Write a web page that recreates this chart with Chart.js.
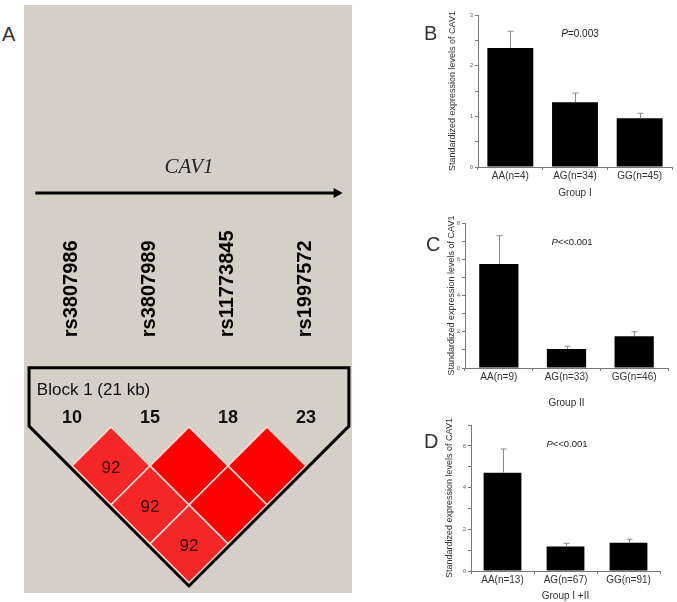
<!DOCTYPE html>
<html>
<head>
<meta charset="utf-8">
<script src="https://cdn.jsdelivr.net/npm/chart.js@4.4.1/dist/chart.umd.min.js"></script>
<style>
  body { margin: 0; background: #fff; width: 677px; height: 602px; position: relative; overflow: hidden; font-family: 'Liberation Sans', Arial, sans-serif; }
  canvas { position: absolute; }
  .lbl { position: absolute; font-size: 20px; color: #333; line-height: 1; }
  .pv { position: absolute; font-size: 10px; color: #222; line-height: 1; transform: translate(-50%, -50%); white-space: nowrap; }
</style>
</head>
<body>
<canvas id="ld" width="328" height="588" style="left:24px;top:5px;background:#d4d0c8"></canvas>
<canvas id="chB" width="237" height="205" style="left:440px;top:0px"></canvas>
<canvas id="chC" width="237" height="205" style="left:440px;top:205px"></canvas>
<canvas id="chD" width="237" height="192" style="left:440px;top:410px"></canvas>

<div class="lbl" style="left:2px;top:24px">A</div>
<div class="lbl" style="left:424px;top:23px">B</div>
<div class="lbl" style="left:426px;top:234px">C</div>
<div class="lbl" style="left:424px;top:431px">D</div>
<div class="pv" style="left:580px;top:34px"><i>P</i>=0.003</div>
<div class="pv" style="left:572px;top:242px;font-size:9.5px"><i>P</i>&lt;&lt;0.001</div>
<div class="pv" style="left:567px;top:444px;font-size:9.5px"><i>P</i>&lt;&lt;0.001</div>

<script>
// panel A: LD block
const snpNames = ['rs3807986', 'rs3807989', 'rs11773845', 'rs1997572'];
const snpNumbers = ['10', '15', '18', '23'];
// [snp i, snp j, D' x100]
const ldPairs = [[1, 2, 92], [2, 3, 100], [3, 4, 100], [1, 3, 92], [2, 4, 100], [1, 4, 92]];
const geneName = 'CAV1';
const blockTitle = 'Block 1 (21 kb)';

// panels B-D: expression by genotype
const labelsB = ['AA(n=4)', 'AG(n=34)', 'GG(n=45)'];
const meansB = [2.35, 1.28, 0.96];
const errB = [0.33, 0.18, 0.10];
const labelsC = ['AA(n=9)', 'AG(n=33)', 'GG(n=46)'];
const meansC = [5.74, 1.05, 1.75];
const errC = [1.56, 0.15, 0.25];
const labelsD = ['AA(n=13)', 'AG(n=67)', 'GG(n=91)'];
const meansD = [4.71, 1.18, 1.36];
const errD = [1.14, 0.15, 0.16];

const yTitle = 'Standardized expression levels of CAV1';

Chart.defaults.font.family = "'Liberation Sans', Arial, sans-serif";
Chart.defaults.animation = false;

const ldPlugin = {
    id: 'ldDraw',
    afterDatasetsDraw(chart) {
        const {ctx, scales: {x, y}} = chart;
        const px = v => x.getPixelForValue(v);
        const py = v => y.getPixelForValue(v);
        ctx.save();

        // gene arrow
        ctx.strokeStyle = '#000';
        ctx.fillStyle = '#000';
        ctx.lineWidth = 3;
        ctx.beginPath();
        ctx.moveTo(px(0.53), py(-3.0));
        ctx.lineTo(px(4.40), py(-3.0));
        ctx.stroke();
        ctx.beginPath();
        ctx.moveTo(px(4.47), py(-3.0));
        ctx.lineTo(px(4.47) - 9, py(-3.0) - 5);
        ctx.lineTo(px(4.47) - 9, py(-3.0) + 5);
        ctx.closePath();
        ctx.fill();

        ctx.font = "italic 21px 'Liberation Serif', 'Times New Roman', serif";
        ctx.fillStyle = '#222';
        ctx.textAlign = 'center';
        ctx.textBaseline = 'middle';
        ctx.fillText(geneName, px(2.5), py(-3.33));

        // snp names, rotated
        ctx.fillStyle = '#000';
        ctx.font = "bold 20px 'Liberation Sans', Arial, sans-serif";
        snpNames.forEach((n, k) => {
            ctx.save();
            ctx.translate(px(k + 1), py(-1.15));
            ctx.rotate(-Math.PI / 2);
            ctx.textAlign = 'left';
            ctx.textBaseline = 'middle';
            ctx.fillText(n, 0, 0);
            ctx.restore();
        });

        // diamonds
        ldPairs.forEach(([i, j, d]) => {
            const cx = (i + j) / 2, cy = (j - i) / 2;
            ctx.beginPath();
            ctx.moveTo(px(cx), py(cy - 0.5));
            ctx.lineTo(px(cx + 0.5), py(cy));
            ctx.lineTo(px(cx), py(cy + 0.5));
            ctx.lineTo(px(cx - 0.5), py(cy));
            ctx.closePath();
            ctx.fillStyle = d >= 100 ? '#ff0000' : '#f42626';
            ctx.fill();
            ctx.strokeStyle = '#ffd8d0';
            ctx.lineWidth = 1.5;
            ctx.stroke();
            if (d < 100) {
                ctx.fillStyle = '#3a0808';
                ctx.font = "17px 'Liberation Sans', Arial, sans-serif";
                ctx.textAlign = 'center';
                ctx.textBaseline = 'middle';
                ctx.fillText(String(d), px(cx), py(cy) + 2);
            }
        });

        // block outline
        ctx.strokeStyle = '#000';
        ctx.lineWidth = 3;
        ctx.lineJoin = 'miter';
        ctx.beginPath();
        ctx.moveTo(px(0.45), py(-0.76));
        ctx.lineTo(px(4.55), py(-0.76));
        ctx.lineTo(px(4.55), py(-0.01));
        ctx.lineTo(px(2.5), py(2.04));
        ctx.lineTo(px(0.45), py(-0.01));
        ctx.closePath();
        ctx.stroke();

        ctx.fillStyle = '#111';
        ctx.font = "17px 'Liberation Sans', Arial, sans-serif";
        ctx.textAlign = 'left';
        ctx.textBaseline = 'middle';
        ctx.fillText(blockTitle, px(0.55), py(-0.47));

        ctx.font = "bold 18px 'Liberation Sans', Arial, sans-serif";
        ctx.textAlign = 'center';
        snpNumbers.forEach((n, k) => ctx.fillText(n, px(k + 1), py(-0.115)));

        ctx.restore();
    }
};

new Chart(document.getElementById('ld'), {
    type: 'scatter',
    data: { datasets: [{ data: ldPairs.map(p => ({ x: (p[0] + p[1]) / 2, y: (p[1] - p[0]) / 2 })), pointRadius: 0 }] },
    options: {
        responsive: false,
        layout: { padding: 0 },
        plugins: { legend: { display: false }, tooltip: { enabled: false } },
        scales: {
            x: { type: 'linear', display: false, min: 0.385, max: 4.59 },
            y: { type: 'linear', display: false, min: -5.41, max: 2.13, reverse: true }
        }
    },
    plugins: [ldPlugin]
});

// one-sided error bars
const errPlugin = {
    id: 'errBars',
    afterDatasetsDraw(chart) {
        const {ctx} = chart;
        const ys = chart.scales.y;
        const errs = chart.options.plugins.errBars.errs;
        const meta = chart.getDatasetMeta(0);
        ctx.save();
        ctx.strokeStyle = '#8a8a8a';
        ctx.lineWidth = 1;
        meta.data.forEach((bar, k) => {
            const v = chart.data.datasets[0].data[k];
            const yTop = ys.getPixelForValue(v + errs[k]);
            const xc = Math.round(bar.x) + 0.5;
            ctx.beginPath();
            ctx.moveTo(xc, bar.y);
            ctx.lineTo(xc, yTop);
            ctx.moveTo(xc - 3, yTop);
            ctx.lineTo(xc + 3, yTop);
            ctx.stroke();
        });
        ctx.restore();
    }
};

function makeBar(id, labels, means, errs, cfg) {
    new Chart(document.getElementById(id), {
        type: 'bar',
        data: { labels: labels, datasets: [{ data: means, backgroundColor: '#000', barPercentage: cfg.barPct, categoryPercentage: 1 }] },
        options: {
            responsive: false,
            layout: { padding: { top: cfg.padTop, right: cfg.padRight, left: 0, bottom: 0 } },
            plugins: { legend: { display: false }, tooltip: { enabled: false }, errBars: { errs: errs } },
            scales: {
                x: {
                    grid: { drawOnChartArea: false, tickLength: 3, color: '#777' },
                    border: { color: '#777' },
                    ticks: { color: '#333', font: { size: 10 }, padding: 0, maxRotation: 0, autoSkip: false },
                    title: { display: true, text: cfg.xTitle, color: '#333', font: { size: 10 }, padding: { top: 0, bottom: cfg.titlePadB } },
                    afterFit: s => { s.height = cfg.xH; }
                },
                y: {
                    min: 0, max: cfg.ymax,
                    grid: { drawOnChartArea: false, tickLength: 3, color: '#777' },
                    border: { color: '#777' },
                    ticks: {
                        stepSize: cfg.step, color: '#666', font: { size: 6 }, padding: 2,
                        callback: v => (Math.abs(v / cfg.labelEvery - Math.round(v / cfg.labelEvery)) < 1e-6 && v <= cfg.labelMax) ? v : ''
                    },
                    title: { display: true, text: yTitle, color: '#333', font: { size: 9 }, padding: { top: cfg.titlePadL, bottom: 0 } },
                    afterFit: s => { s.width = cfg.yW; }
                }
            }
        },
        plugins: [errPlugin]
    });
}

makeBar('chB', labelsB, meansB, errB, { barPct: 0.71, padTop: 15, padRight: 5, xH: 38, yW: 38, ymax: 3, step: 0.5, labelEvery: 1, labelMax: 3, xTitle: 'Group I', titlePadB: 6, titlePadL: 7 });
makeBar('chC', labelsC, meansC, errC, { barPct: 0.58, padTop: 18, padRight: 9, xH: 42, yW: 25, ymax: 8, step: 1, labelEvery: 2, labelMax: 8, xTitle: 'Group II', titlePadB: 1, titlePadL: 6 });
makeBar('chD', labelsD, meansD, errD, { barPct: 0.6, padTop: 15, padRight: 17, xH: 31, yW: 31, ymax: 7, step: 1, labelEvery: 2, labelMax: 6, xTitle: 'Group I +II', titlePadB: 0, titlePadL: 4 });
</script>
</body>
</html>
